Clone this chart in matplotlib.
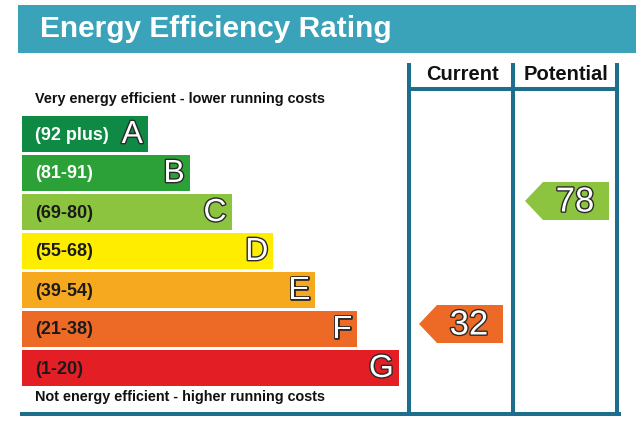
import numpy as np
import matplotlib.pyplot as plt
import matplotlib.patheffects as pe
from matplotlib.patches import Polygon, Rectangle

# Rating bands, top (best) to bottom (worst)
bands = ['A', 'B', 'C', 'D', 'E', 'F', 'G']
ranges = ['(92 plus)', '(81-91)', '(69-80)', '(55-68)', '(39-54)', '(21-38)', '(1-20)']
lower_bounds = [92, 81, 69, 55, 39, 21, 1]
band_colors = ['#0f8a44', '#2ba137', '#8dc43f', '#ffed00', '#f6a91f', '#ec6a25', '#e31e25']
label_colors = ['white', 'white', '#1a1a1a', '#1a1a1a', '#1a1a1a', '#1a1a1a', '#1a1a1a']

current = 32
potential = 78

FONT = 'Liberation Sans'
teal = '#3aa3b9'
frame = '#1d6d8c'


def band_index(score):
    for i, lb in enumerate(lower_bounds):
        if score >= lb:
            return i
    return len(bands) - 1


fig = plt.figure(figsize=(6.4, 4.37), dpi=100)
ax = fig.add_axes([0, 0, 1, 1])
ax.set_xlim(0, 640)
ax.set_ylim(437, 0)
ax.axis('off')

# header band
ax.add_patch(Rectangle((18, 5), 618, 48, color=teal, lw=0))
ax.text(40, 29, 'Energy Efficiency Rating', color='white', fontsize=21.5,
        fontweight='bold', family=FONT, va='center', ha='left')

# bars
row_top = 116
pitch = 39
bar_h = 36
left = 22
y_centers = row_top + bar_h / 2 + pitch * np.arange(len(bands))
widths = 126 + 41.8 * np.arange(len(bands))
ax.barh(y_centers, widths, left=left, height=bar_h, color=band_colors, lw=0)

outline = [pe.withStroke(linewidth=2.0, foreground='#2a2a2a')]
for i, b in enumerate(bands):
    ax.text(35, y_centers[i] + 1, ranges[i], color=label_colors[i], fontsize=13,
            fontweight='bold', family=FONT, va='center', ha='left')
    ax.text(left + widths[i] - 5, y_centers[i] + 1, b, color='white', fontsize=23,
            family=FONT, va='center', ha='right', path_effects=outline)

ax.text(35, 99, 'Very energy efficient - lower running costs', fontsize=10.4,
        fontweight='bold', family=FONT, va='center', ha='left', color='#111')
ax.text(35, 397, 'Not energy efficient - higher running costs', fontsize=10.4,
        fontweight='bold', family=FONT, va='center', ha='left', color='#111')

# frame of the current / potential columns
col_x = [409, 513, 617]
lw = 2.9
for x in col_x:
    ax.plot([x, x], [63, 414], color=frame, lw=lw, solid_capstyle='butt')
ax.plot([col_x[0], col_x[2]], [89, 89], color=frame, lw=lw)
ax.plot([22, col_x[2] + 1.5], [414, 414], color=frame, lw=lw)
ax.text(462, 74, 'Current', fontsize=14.5, fontweight='bold', family=FONT,
        ha='center', va='center', color='#111')
ax.text(566, 74, 'Potential', fontsize=14.5, fontweight='bold', family=FONT,
        ha='center', va='center', color='#111')


def score_arrow(x_tip, score, dy):
    i = band_index(score)
    yc = y_centers[i] + dy
    h = 38
    pts = [(x_tip, yc), (x_tip + 18, yc - h / 2), (x_tip + 84, yc - h / 2),
           (x_tip + 84, yc + h / 2), (x_tip + 18, yc + h / 2)]
    ax.add_patch(Polygon(pts, closed=True, color=band_colors[i], lw=0))
    ax.text(x_tip + 50, yc + 1, str(score), color='white', fontsize=25,
            family=FONT, ha='center', va='center', path_effects=outline)


score_arrow(419, current, -5)
score_arrow(525, potential, -11)

fig.savefig('out.png', dpi=100, facecolor='white')
